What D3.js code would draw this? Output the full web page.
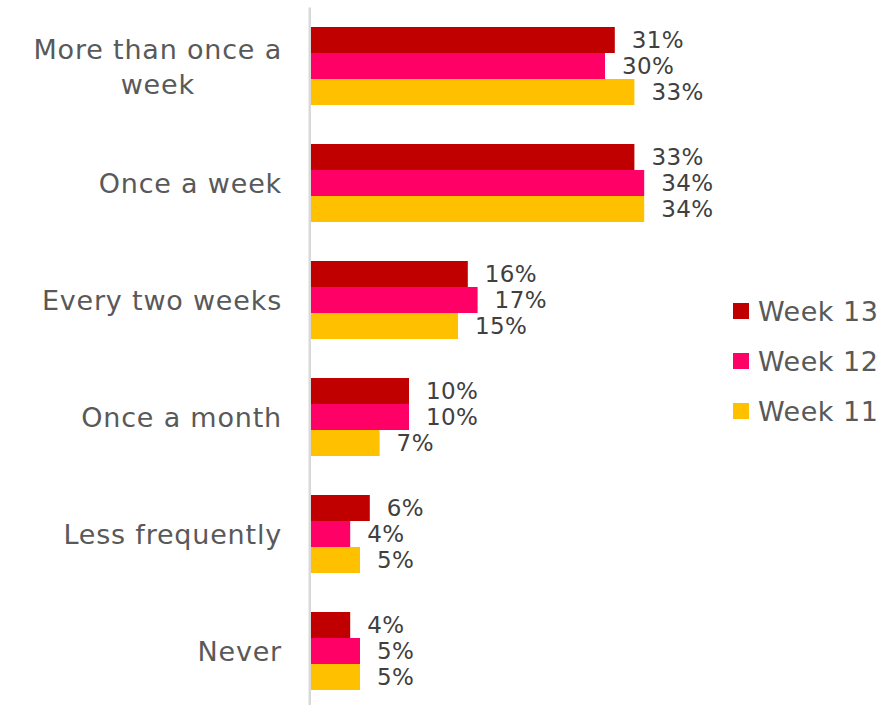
<!DOCTYPE html>
<html>
<head>
<meta charset="utf-8">
<script src="https://cdn.jsdelivr.net/npm/d3@7"></script>
<style>
  html, body { margin: 0; padding: 0; background: #ffffff; }
  svg { display: block; font-family: "Century Gothic", "DejaVu Sans", sans-serif; }
</style>
</head>
<body>
<svg id="chart" width="894" height="705"></svg>
<script>
// Frequency categories (top to bottom) and survey waves
const categories = [
  "More than once a week",
  "Once a week",
  "Every two weeks",
  "Once a month",
  "Less frequently",
  "Never"
];
const seriesNames = ["Week 13", "Week 12", "Week 11"];
const seriesColors = ["#C00000", "#FF0066", "#FFC000"];

// Share of respondents (%) per category
const week13 = [31, 33, 16, 10, 6, 4];
const week12 = [30, 34, 17, 10, 4, 5];
const week11 = [33, 34, 15, 7, 5, 5];
const seriesValues = [week13, week12, week11];

// Category labels, split where they wrap
const categoryLines = [
  ["More than once a", "week"],
  ["Once a week"],
  ["Every two weeks"],
  ["Once a month"],
  ["Less frequently"],
  ["Never"]
];

const svg = d3.select("#chart");

const x = d3.scaleLinear().domain([0, 40]).range([311, 703]);
const y = d3.scaleBand().domain(categories).range([7.5, 709.5])
  .paddingInner(1 / 3).paddingOuter(1 / 6);
const ySeries = d3.scaleBand().domain(seriesNames).range([0, y.bandwidth()]);

// Vertical category axis line
svg.append("line")
  .attr("x1", 309.75).attr("x2", 309.75)
  .attr("y1", 7.5).attr("y2", 705)
  .attr("stroke", "#d9d9d9").attr("stroke-width", 2.5);

// Bars
const rows = categories.flatMap((c, i) =>
  seriesNames.map((s, j) => ({ cat: c, series: s, value: seriesValues[j][i], color: seriesColors[j] }))
);

const g = svg.append("g");
g.selectAll("rect").data(rows).join("rect")
  .attr("x", x(0))
  .attr("y", d => y(d.cat) + ySeries(d.series))
  .attr("width", d => x(d.value) - x(0))
  .attr("height", ySeries.bandwidth())
  .attr("fill", d => d.color);

// Value labels
g.selectAll("text.val").data(rows).join("text")
  .attr("class", "val")
  .attr("x", d => x(d.value) + 17)
  .attr("y", d => y(d.cat) + ySeries(d.series) + ySeries.bandwidth() / 2)
  .attr("dominant-baseline", "central")
  .attr("fill", "#404040")
  .attr("font-size", 23)
  .attr("letter-spacing", 0.4)
  .text(d => d.value + "%");

// Category labels: block right-aligned to the axis, lines centered in the block
const lineH = 35;
categories.forEach((c, i) => {
  const lines = categoryLines[i];
  const cy = y(c) + y.bandwidth() / 2;
  const t = svg.append("text")
    .attr("fill", "#595959")
    .attr("font-size", 27)
    .attr("letter-spacing", 0.8)
    .attr("text-anchor", "middle")
    .attr("dominant-baseline", "central");
  const spans = lines.map((ln, k) =>
    t.append("tspan")
      .attr("y", cy + (k - (lines.length - 1) / 2) * lineH)
      .text(ln)
  );
  const maxW = d3.max(spans, s => s.node().getComputedTextLength());
  spans.forEach(s => s.attr("x", 282 - maxW / 2));
});

// Legend
const legend = svg.append("g");
seriesNames.forEach((s, j) => {
  const ly = 311 + j * 50;
  legend.append("rect")
    .attr("x", 733).attr("y", ly - 8)
    .attr("width", 16).attr("height", 16)
    .attr("fill", seriesColors[j]);
  legend.append("text")
    .attr("x", 758).attr("y", ly)
    .attr("dominant-baseline", "central")
    .attr("fill", "#595959")
    .attr("font-size", 27)
    .attr("letter-spacing", 0.5)
    .text(s);
});
</script>
</body>
</html>
